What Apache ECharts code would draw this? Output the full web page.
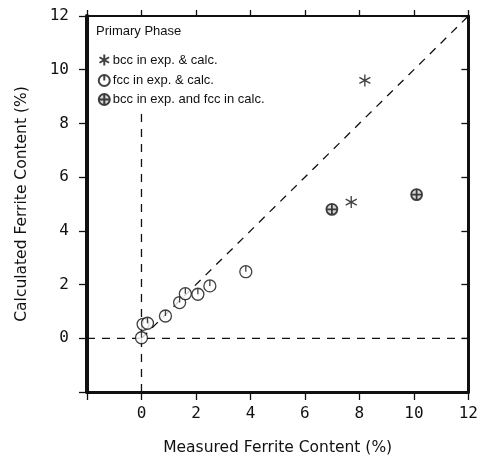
<!DOCTYPE html>
<html>
<head>
<meta charset="utf-8">
<script src="https://cdn.jsdelivr.net/npm/echarts@6/dist/echarts.min.js"></script>
<style>
  html, body { margin: 0; padding: 0; background: #fff; }
  #chart { width: 481px; height: 461px; }
</style>
</head>
<body>
<div id="chart"></div>
<script>
(function() {
  // --- data ---
  var bccBoth = [[8.2, 9.6], [7.7, 5.07]];
  var fccBoth = [[0.0, 0.02], [0.06, 0.52], [0.22, 0.56], [0.88, 0.83], [1.4, 1.33],
                 [1.61, 1.66], [2.07, 1.64], [2.51, 1.95], [3.83, 2.48]];
  var bccExpFccCalc = [[6.99, 4.8], [10.1, 5.35]];
  var diagonal = [[0, 0], [12, 12]];
  var vertical = [[0, -2], [0, 8.5]];
  var horizontal = [[-2, 0], [12, 0]];

  var ink = '#111';
  var tickFont = 'DejaVu Sans Mono';
  var nameFont = 'DejaVu Sans';
  var textFont = 'Liberation Sans';

  var asterisk = 'path://M0,-10 L0,10 M-8.7,-5 L8.7,5 M-8.7,5 L8.7,-5';
  var phiCircle = 'path://M0,-10 A10,10 0 1,1 0,10 A10,10 0 1,1 0,-10 Z M0,-10 L0,0';
  var circledPlus = 'path://M0,-10 A10,10 0 1,1 0,10 A10,10 0 1,1 0,-10 Z M0,-10 L0,10 M-10,0 L10,0';

  var chart = echarts.init(document.getElementById('chart'), null, { renderer: 'canvas' });

  function hideNeg(v) { return v < 0 ? '' : String(v); }

  var dashed = { color: ink, width: 1.3, type: [8, 7] };

  chart.setOption({
    animation: false,
    backgroundColor: '#fff',
    title: {
      text: 'Primary Phase',
      left: 91, top: 20,
      textStyle: { fontFamily: textFont, fontSize: 13, fontWeight: 'normal', color: ink }
    },
    legend: {
      orient: 'vertical',
      left: 92, top: 47,
      itemWidth: 11, itemHeight: 11, itemGap: 6,
      data: ['bcc in exp. & calc.', 'fcc in exp. & calc.', 'bcc in exp. and fcc in calc.'],
      textStyle: { fontFamily: textFont, fontSize: 13, color: ink, padding: [0, 0, 0, -2] }
    },
    grid: { left: 87, right: 11, top: 16, bottom: 69 },
    xAxis: [{
      type: 'value', min: -2, max: 12, interval: 2,
      name: 'Measured Ferrite Content (%)',
      nameLocation: 'middle', nameGap: 48,
      nameTextStyle: { fontFamily: nameFont, fontSize: 15.5, color: ink },
      axisLine: { onZero: false, lineStyle: { color: ink, width: 3 } },
      axisTick: { inside: false, length: 8, lineStyle: { color: ink, width: 1.3 } },
      axisLabel: { formatter: hideNeg, fontFamily: tickFont, fontSize: 16, color: ink, margin: 14 },
      splitLine: { show: false }
    }, {
      type: 'value', min: -2, max: 12, interval: 2, position: 'top',
      axisLine: { onZero: false, lineStyle: { color: ink, width: 2 } },
      axisTick: { inside: false, length: 6, lineStyle: { color: ink, width: 1.3 } },
      axisLabel: { show: false },
      splitLine: { show: false }
    }],
    yAxis: [{
      type: 'value', min: -2, max: 12, interval: 2,
      name: 'Calculated Ferrite Content (%)',
      nameLocation: 'middle', nameGap: 57,
      nameTextStyle: { fontFamily: nameFont, fontSize: 15.5, color: ink },
      axisLine: { onZero: false, lineStyle: { color: ink, width: 4 } },
      axisTick: { inside: false, length: 8, lineStyle: { color: ink, width: 1.3 } },
      axisLabel: { formatter: hideNeg, fontFamily: tickFont, fontSize: 16, color: ink, margin: 18 },
      splitLine: { show: false }
    }, {
      type: 'value', min: -2, max: 12, interval: 2, position: 'right',
      axisLine: { onZero: false, lineStyle: { color: ink, width: 3 } },
      axisTick: { inside: true, length: 7, lineStyle: { color: ink, width: 1.3 } },
      axisLabel: { show: false },
      splitLine: { show: false }
    }],
    series: [
      { type: 'line', data: diagonal, symbol: 'none', lineStyle: dashed, silent: true },
      { type: 'line', data: vertical, symbol: 'none', lineStyle: dashed, silent: true },
      { type: 'line', data: horizontal, symbol: 'none', lineStyle: dashed, silent: true },
      {
        name: 'bcc in exp. & calc.', type: 'scatter', data: bccBoth,
        symbol: asterisk, symbolSize: [11, 12],
        itemStyle: { color: 'none', borderColor: ink, borderWidth: 1.4 }, z: 5
      },
      {
        name: 'fcc in exp. & calc.', type: 'scatter', data: fccBoth,
        symbol: phiCircle, symbolSize: 12,
        itemStyle: { color: '#fff', borderColor: ink, borderWidth: 1.3 }, z: 5
      },
      {
        name: 'bcc in exp. and fcc in calc.', type: 'scatter', data: bccExpFccCalc,
        symbol: circledPlus, symbolSize: 11,
        itemStyle: { color: '#ccc', borderColor: ink, borderWidth: 1.8 }, z: 5
      }
    ]
  });

  window.addEventListener('resize', function() { chart.resize(); });
})();
</script>
</body>
</html>
